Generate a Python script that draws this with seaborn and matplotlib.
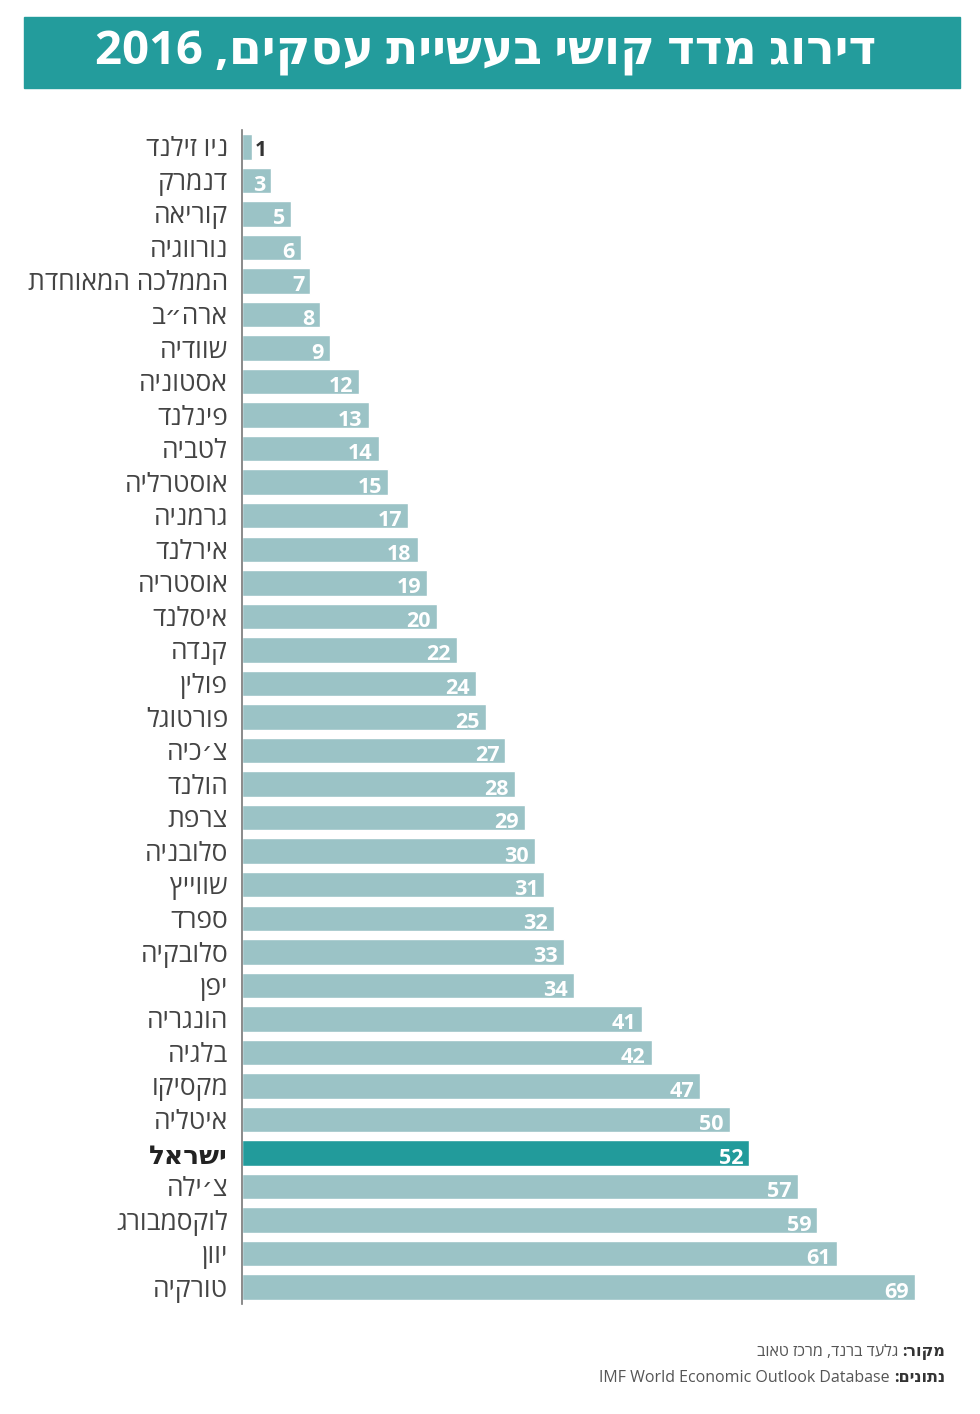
import re
import matplotlib
matplotlib.use("Agg")
import matplotlib.pyplot as plt
import seaborn as sns
import pandas as pd
from matplotlib.offsetbox import HPacker, TextArea, AnchoredOffsetbox

countries = ["ניו זילנד", "דנמרק", "קוריאה", "נורווגיה", "הממלכה המאוחדת", "ארה״ב",
             "שוודיה", "אסטוניה", "פינלנד", "לטביה", "אוסטרליה", "גרמניה", "אירלנד",
             "אוסטריה", "איסלנד", "קנדה", "פולין", "פורטוגל", "צ׳כיה", "הולנד", "צרפת",
             "סלובניה", "שווייץ", "ספרד", "סלובקיה", "יפן", "הונגריה", "בלגיה", "מקסיקו",
             "איטליה", "ישראל", "צ׳ילה", "לוקסמבורג", "יוון", "טורקיה"]
ranks = [1, 3, 5, 6, 7, 8, 9, 12, 13, 14, 15, 17, 18, 19, 20, 22, 24, 25, 27, 28, 29,
         30, 31, 32, 33, 34, 41, 42, 47, 50, 52, 57, 59, 61, 69]
highlight = "ישראל"
title = "דירוג מדד קושי בעשיית עסקים, 2016"
source_label = "מקור:"
source_text = "גלעד ברנד, מרכז טאוב"
data_label = "נתונים:"
data_text = "IMF World Economic Outlook Database"

FONT = ["Open Sans", "DejaVu Sans"]
LIGHT = "#9BC3C6"
DARK = "#229B9B"


def vis(s):
    """Convert logical RTL string to visual order for matplotlib."""
    if not re.search(r"[\u0590-\u05FF]", s):
        return s
    r = s[::-1]
    return re.sub(r"[0-9A-Za-z][0-9A-Za-z .]*[0-9A-Za-z]|[0-9A-Za-z]", lambda m: m.group(0)[::-1], r)


sns.set_theme(style="white")
plt.rcParams["font.family"] = FONT

W, H = 980, 1414
fig = plt.figure(figsize=(W / 100, H / 100), dpi=100)

# title banner
fig.patches.append(plt.Rectangle((24 / W, 1 - 88 / H), (960 - 24) / W, (88 - 17) / H,
                                 transform=fig.transFigure, color="#239C9C", zorder=0))
fig.text(486 / W, 1 - 52 / H, vis(title), ha="center", va="center", color="white",
         fontsize=34, fontweight="bold", family=FONT)

left, right, top, bottom = 242, 960, 130, 1304
ax = fig.add_axes([left / W, 1 - bottom / H, (right - left) / W, (bottom - top) / H])

labels = [vis(c) for c in countries]
df = pd.DataFrame({"country": labels, "rank": ranks})
pal = {vis(c): (DARK if c == highlight else LIGHT) for c in countries}
sns.barplot(data=df, x="rank", y="country", hue="country", palette=pal, legend=False,
            width=0.76, saturation=1, ax=ax, orient="h")

ax.set_xlim(0, (right - left) / 9.75)
ax.set_ylim(len(countries) - 0.5, -0.5)
ax.set_xlabel("")
ax.set_ylabel("")
ax.set_xticks([])
for s in ["top", "right", "bottom"]:
    ax.spines[s].set_visible(False)
ax.spines["left"].set_color("#777777")
ax.spines["left"].set_linewidth(1.2)
ax.tick_params(axis="y", length=0, pad=10)
for t, c in zip(ax.get_yticklabels(), countries):
    t.set_fontsize(19)
    t.set_family(FONT)
    if c == highlight:
        t.set_fontweight("bold")
        t.set_color("#222222")
    else:
        t.set_color("#444444")

for i, v in enumerate(ranks):
    if v <= 1:
        ax.text(v + 0.3, i + 0.12, str(v), ha="left", va="center", color="#333333",
                fontsize=15, fontweight="bold", family=FONT)
    else:
        ax.text(v - 0.6, i + 0.15, str(v), ha="right", va="center", color="white",
                fontsize=15.5, fontweight="bold", family=FONT)


def src_line(y, bold, normal):
    a = TextArea(vis(normal) + " ", textprops=dict(color="#555555", fontsize=11.5, family=FONT))
    b = TextArea(vis(bold), textprops=dict(color="#333333", fontsize=11.5, fontweight="bold", family=FONT))
    box = HPacker(children=[a, b], align="baseline", pad=0, sep=0)
    ab = AnchoredOffsetbox(loc="center right", child=box, pad=0, borderpad=0, frameon=False,
                           bbox_to_anchor=(945 / W, 1 - y / H), bbox_transform=fig.transFigure)
    fig.add_artist(ab)


src_line(1352, source_label, source_text)
src_line(1378, data_label, data_text)

fig.savefig("out.png", dpi=100)
